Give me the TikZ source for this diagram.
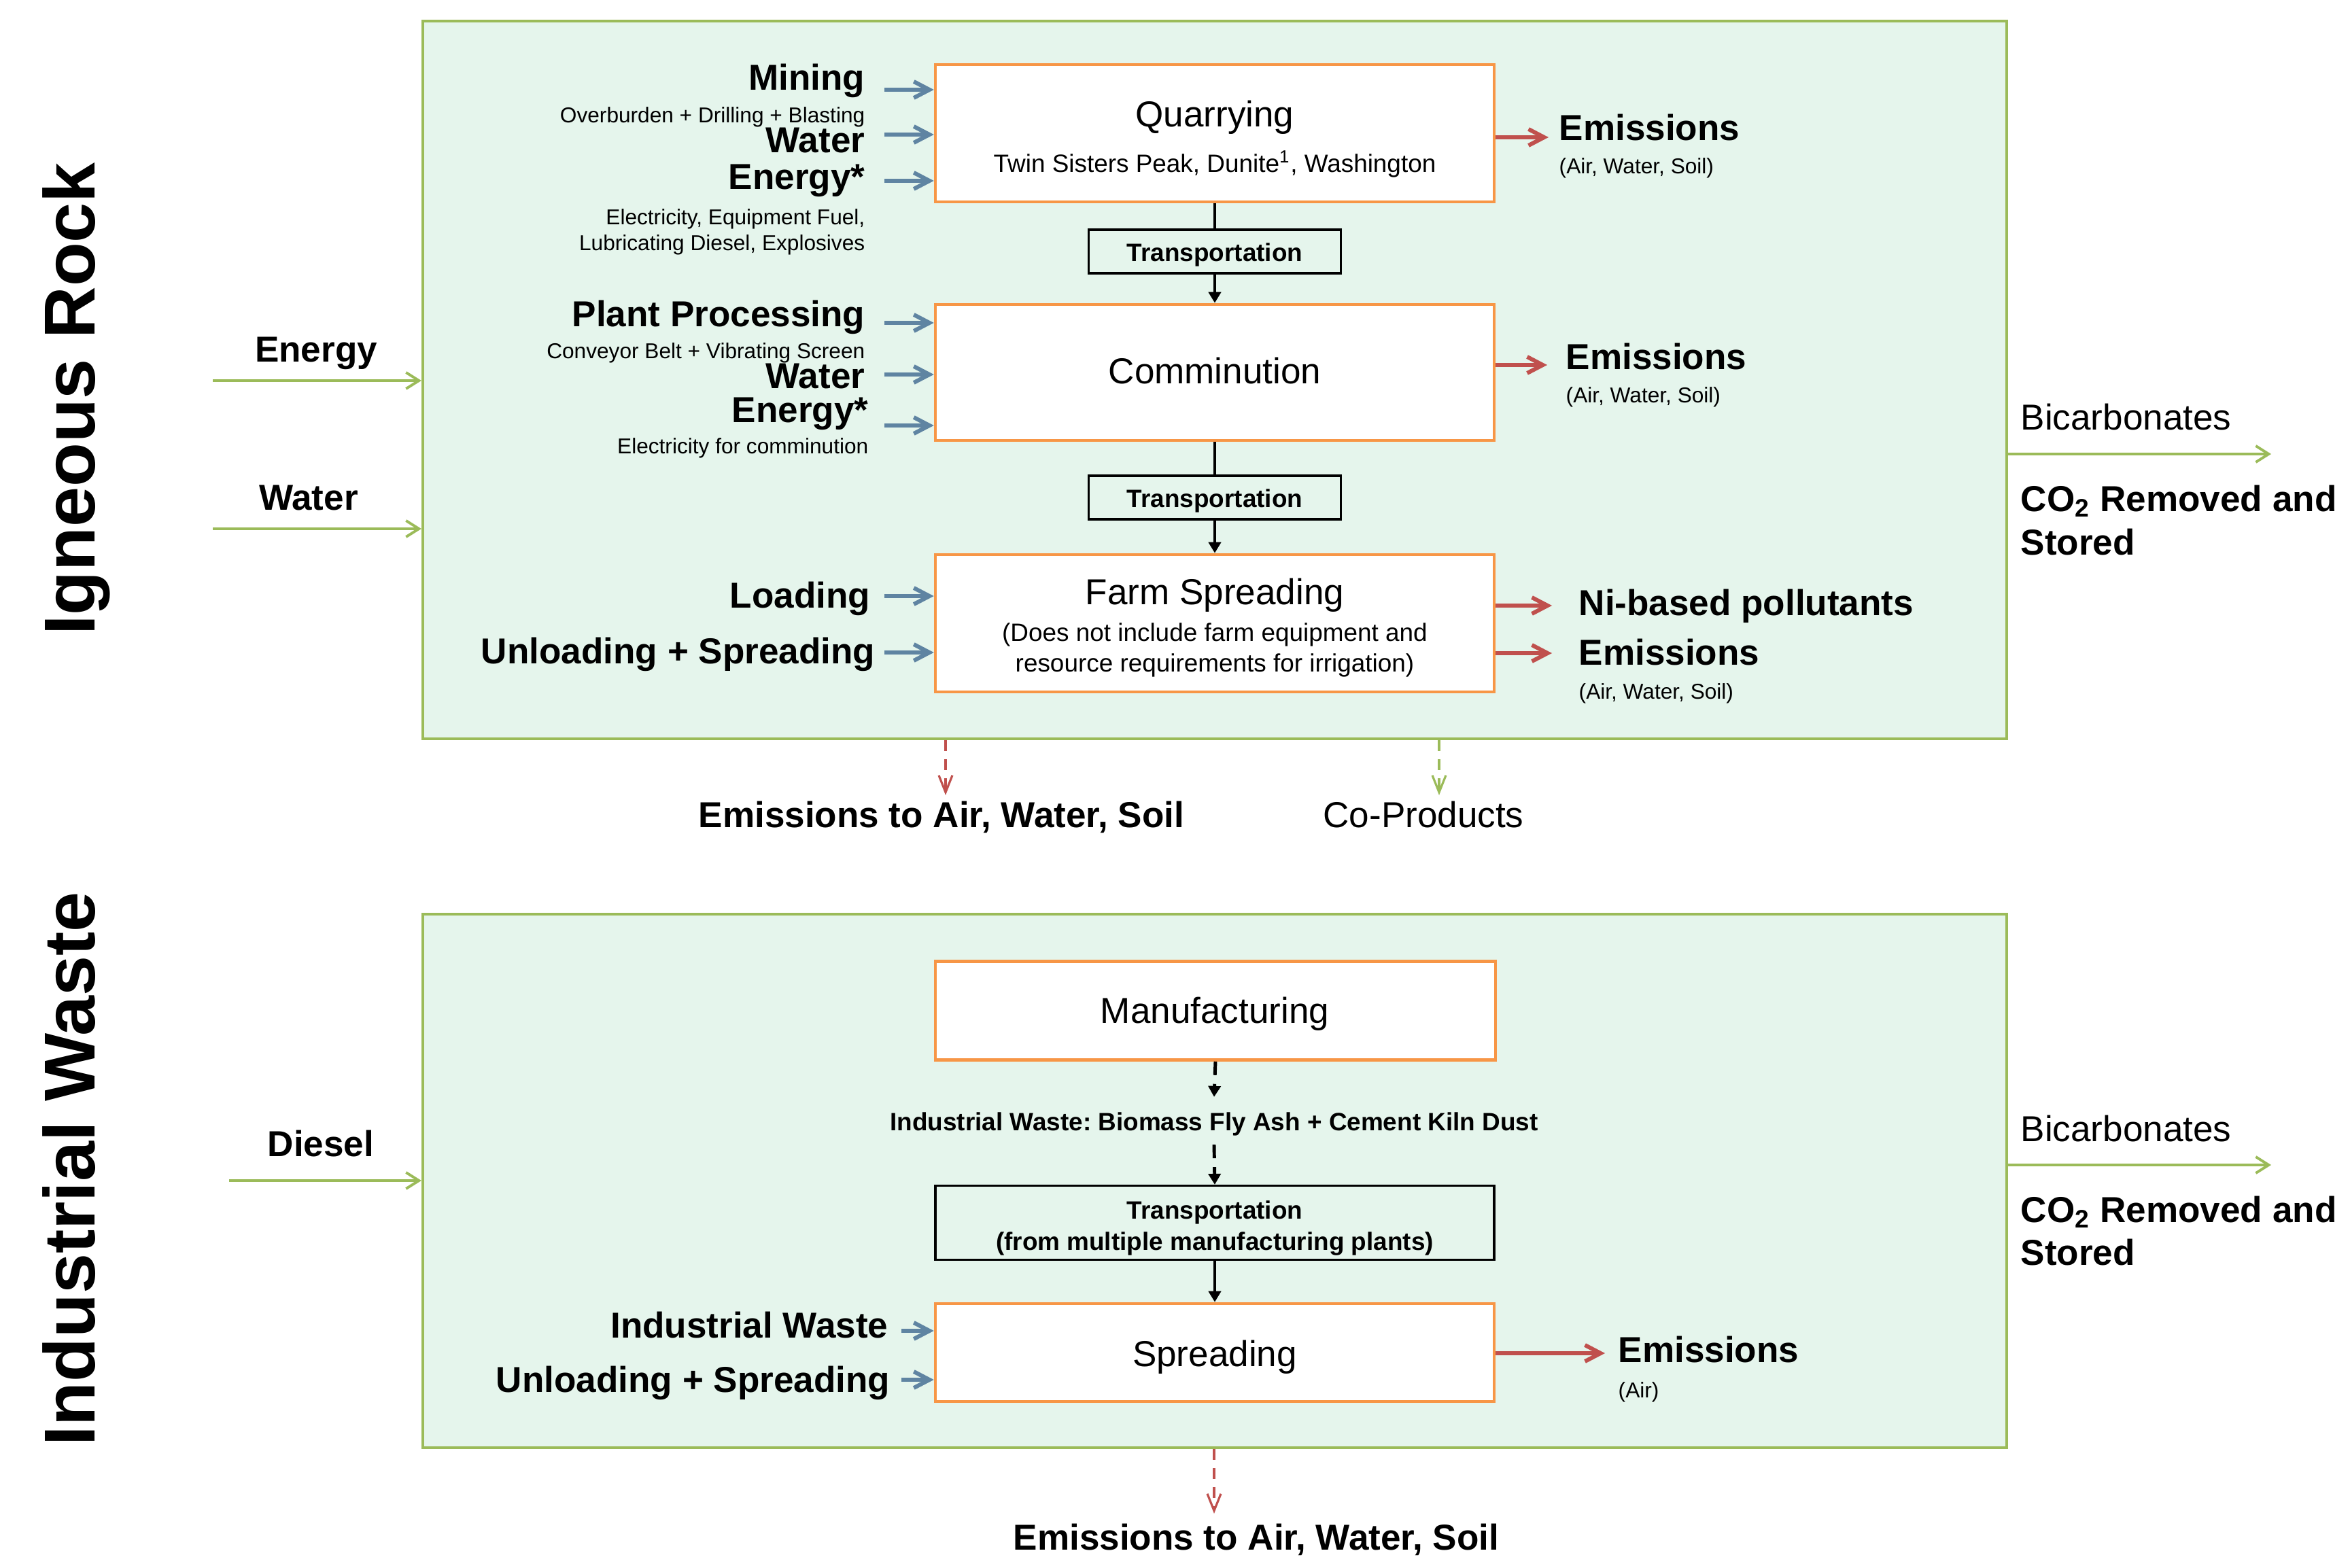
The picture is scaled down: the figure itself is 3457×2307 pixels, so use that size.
\documentclass[tikz,border=0pt]{standalone}
\usepackage{fontspec}
\setmainfont{Liberation Sans}
\usetikzlibrary{arrows.meta}
\definecolor{pgreen}{HTML}{9BBB59}
\definecolor{pfill}{HTML}{E5F5EC}
\definecolor{porange}{HTML}{F79646}
\definecolor{pblue}{HTML}{5F84A2}
\definecolor{pred}{HTML}{C0504D}
\newcommand\fbig{\fontsize{15.1}{18}\selectfont}
\newcommand\fmed{\fontsize{10.5}{12.6}\selectfont}
\newcommand\fsm{\fontsize{9}{10.8}\selectfont}
\newcommand\fhuge{\fontsize{30.2}{36}\selectfont}
\frenchspacing
\begin{document}
\begin{tikzpicture}[x=0.1mm,y=-0.1mm,
  panel/.style={draw=pgreen, fill=pfill, line width=1.2pt, inner sep=0pt},
  procbox/.style={draw=porange, fill=white, line width=1.3pt, inner sep=0pt},
  transbox/.style={draw=black, fill=pfill, line width=0.9pt, inner sep=0pt, text height=1.02em, text depth=0.2em},
  txt/.style={inner sep=0pt, text height=1.02em, text depth=0.2em},
  bigb/.style={txt, font=\fbig\bfseries},
  bigr/.style={txt, font=\fbig},
  medb/.style={txt, font=\fmed\bfseries},
  medr/.style={txt, font=\fmed},
  smr/.style={txt, font=\fsm},
  hugeb/.style={txt, font=\fhuge\bfseries, rotate=90},
  inarrow/.style={draw=pblue, line width=1.7pt, -{Straight Barb[length=2.3mm,width=2.4mm]}},
  outarrow/.style={draw=pred, line width=1.7pt, -{Straight Barb[length=2.3mm,width=2.4mm]}},
  greenarrow/.style={draw=pgreen, line width=1.1pt, -{Straight Barb[length=1.9mm,width=2.4mm]}},
  reddash/.style={draw=pred, line width=0.9pt, dash pattern=on 1.6mm off 1.2mm, -{Straight Barb[length=2.5mm,width=2mm]}},
  greendash/.style={draw=pgreen, line width=0.9pt, dash pattern=on 1.6mm off 1.2mm, -{Straight Barb[length=2.5mm,width=2mm]}},
  flowline/.style={draw=black, line width=1.4pt},
  flowarrow/.style={flowline, -{Triangle[length=1.6mm,width=1.8mm]}},
  flowdash/.style={flowarrow, dash pattern=on 2mm off 1.3mm},
]
\fill[white] (0,0) rectangle (3457,2307);
\useasboundingbox (0,0) rectangle (3457,2307);

% panels
\node[panel, minimum width=233mm, minimum height=105.6mm] (top) at (1787,559) {};
\node[panel, minimum width=233mm, minimum height=78.5mm] (bot) at (1787,1737.5) {};

% side titles
\node[hugeb] (igneous) at (125,587) {Igneous Rock};
\node[hugeb] (indwaste) at (125,1720) {Industrial Waste};

% process boxes
\node[procbox, minimum width=82.2mm, minimum height=20.2mm] (q) at (1787,196) {};
\node[procbox, minimum width=82.2mm, minimum height=20mm] (c) at (1787,548) {};
\node[procbox, minimum width=82.2mm, minimum height=20.2mm] (f) at (1787,917) {};
\node[transbox, minimum width=37.1mm, minimum height=6.4mm, font=\fmed\bfseries] (t1) at (1787,370) {Transportation};
\node[transbox, minimum width=37.1mm, minimum height=6.4mm, font=\fmed\bfseries] (t2) at (1787,732) {Transportation};
\node[procbox, minimum width=82.4mm, minimum height=14.5mm] (m) at (1788,1487) {};
\node[transbox, minimum width=82.2mm, minimum height=10.9mm] (t3) at (1787,1799) {};
\node[procbox, minimum width=82.2mm, minimum height=14.4mm] (s) at (1787,1990) {};

% box texts
\node[bigr] (qt) at (1787,172) {Quarrying};
\node[medr] (qs) at (1787,239) {Twin Sisters Peak, Dunite\textsuperscript{1}, Washington};
\node[bigr] (ct) at (1787,550) {Comminution};
\node[bigr] (ft) at (1787,875) {Farm Spreading};
\node[medr] (fs1) at (1787,929) {(Does not include farm equipment and};
\node[medr] (fs2) at (1787,974) {resource requirements for irrigation)};
\node[bigr] (mt) at (1787,1491) {Manufacturing};
\node[medb] (t3a) at (1787,1779) {Transportation};
\node[medb] (t3b) at (1787,1825) {(from multiple manufacturing plants)};
\node[bigr] (st) at (1787,1996) {Spreading};
\node[medb, inner ysep=1.3mm] (iwl) at (1786,1649) {Industrial Waste: Biomass Fly Ash + Cement Kiln Dust};

% vertical flow
\draw[flowline] (q.south) -- (t1.north);
\draw[flowarrow] (t1.south) -- (c.north);
\draw[flowline] (c.south) -- (t2.north);
\draw[flowarrow] (t2.south) -- (f.north);
\draw[flowdash] (m.south) -- (iwl.north);
\draw[flowdash] (iwl.south) -- (t3.north);
\draw[flowarrow] (t3.south) -- (s.north);

% quarrying inputs
\node[bigb, anchor=east] (mining) at (1273,118) {Mining};
\node[smr, anchor=east] (mining2) at (1273,166) {Overburden + Drilling + Blasting};
\node[bigb, anchor=east] (qwater) at (1273,210) {Water};
\node[bigb, anchor=east] (qenergy) at (1273,264) {Energy*};
\node[smr, anchor=east] (qen2) at (1273,316) {Electricity, Equipment Fuel,};
\node[smr, anchor=east] (qen3) at (1273,354) {Lubricating Diesel, Explosives};
\coordinate (qa1) at (1301,132);
\coordinate (qa2) at (1301,198);
\coordinate (qa3) at (1301,266);
\draw[inarrow] (qa1) -- (qa1 -| q.west);
\draw[inarrow] (qa2) -- (qa2 -| q.west);
\draw[inarrow] (qa3) -- (qa3 -| q.west);

% comminution inputs
\node[bigb, anchor=east] (plant) at (1273,466) {Plant Processing};
\node[smr, anchor=east] (plant2) at (1273,513) {Conveyor Belt + Vibrating Screen};
\node[bigb, anchor=east] (cwater) at (1273,557) {Water};
\node[bigb, anchor=east] (cenergy) at (1278,607) {Energy*};
\node[smr, anchor=east] (cen2) at (1278,653) {Electricity for comminution};
\coordinate (ca1) at (1301,475);
\coordinate (ca2) at (1301,551);
\coordinate (ca3) at (1301,626);
\draw[inarrow] (ca1) -- (ca1 -| c.west);
\draw[inarrow] (ca2) -- (ca2 -| c.west);
\draw[inarrow] (ca3) -- (ca3 -| c.west);

% farm inputs
\node[bigb, anchor=east] (loading) at (1281,880) {Loading};
\node[bigb, anchor=east] (unload) at (1288,962) {Unloading + Spreading};
\coordinate (fa1) at (1301,877);
\coordinate (fa2) at (1301,960);
\draw[inarrow] (fa1) -- (fa1 -| f.west);
\draw[inarrow] (fa2) -- (fa2 -| f.west);

% spreading inputs
\node[bigb, anchor=east] (iwin) at (1307,1954) {Industrial Waste};
\node[bigb, anchor=east] (unload2) at (1310,2034) {Unloading + Spreading};
\coordinate (sa1) at (1326,1958);
\coordinate (sa2) at (1326,2030);
\draw[inarrow] (sa1) -- (sa1 -| s.west);
\draw[inarrow] (sa2) -- (sa2 -| s.west);

% outputs right of boxes
\coordinate (qo) at (2278,202);
\draw[outarrow] (qo -| q.east) -- (qo);
\node[bigb, anchor=west] (qem) at (2293,192) {Emissions};
\node[smr, anchor=west] (qem2) at (2293,241) {(Air, Water, Soil)};

\coordinate (co) at (2276,537);
\draw[outarrow] (co -| c.east) -- (co);
\node[bigb, anchor=west] (cem) at (2303,529) {Emissions};
\node[smr, anchor=west] (cem2) at (2303,578) {(Air, Water, Soil)};

\coordinate (fo1) at (2283,891);
\coordinate (fo2) at (2283,961);
\draw[outarrow] (fo1 -| f.east) -- (fo1);
\draw[outarrow] (fo2 -| f.east) -- (fo2);
\node[bigb, anchor=west] (ni) at (2322,891) {Ni-based pollutants};
\node[bigb, anchor=west] (fem) at (2322,964) {Emissions};
\node[smr, anchor=west] (fem2) at (2322,1014) {(Air, Water, Soil)};

\coordinate (so) at (2361,1991);
\draw[outarrow] (so -| s.east) -- (so);
\node[bigb, anchor=west] (sem) at (2380,1990) {Emissions};
\node[smr, anchor=west] (sem2) at (2380,2042) {(Air)};

% panel inputs
\node[bigb] (penergy) at (465,518) {Energy};
\node[bigb] (pwater) at (454,736) {Water};
\node[bigb] (pdiesel) at (472,1687) {Diesel};
\coordinate (pe) at (313,560);
\coordinate (pw) at (313,778);
\coordinate (pd) at (337,1737);
\draw[greenarrow] (pe) -- (pe -| top.west);
\draw[greenarrow] (pw) -- (pw -| top.west);
\draw[greenarrow] (pd) -- (pd -| bot.west);

% panel outputs right
\coordinate (bo1) at (3341,668);
\coordinate (bo2) at (3341,1714);
\draw[greenarrow] (bo1 -| top.east) -- (bo1);
\draw[greenarrow] (bo2 -| bot.east) -- (bo2);
\node[bigr, anchor=west] (bic1) at (2972,618) {Bicarbonates};
\node[bigb, anchor=west] (co21) at (2972,738) {CO\textsubscript{2} Removed and};
\node[bigb, anchor=west] (st1) at (2972,802) {Stored};
\node[bigr, anchor=west] (bic2) at (2972,1665) {Bicarbonates};
\node[bigb, anchor=west] (co22) at (2972,1784) {CO\textsubscript{2} Removed and};
\node[bigb, anchor=west] (st2) at (2972,1847) {Stored};

% panel outputs bottom
\coordinate (eo1) at (1391,1170);
\coordinate (cp1) at (2117,1170);
\coordinate (eo2) at (1786,2227);
\draw[reddash] (eo1 |- top.south) -- (eo1);
\draw[greendash] (cp1 |- top.south) -- (cp1);
\draw[reddash] (eo2 |- bot.south) -- (eo2);
\node[bigb] (emw1) at (1385,1203) {Emissions to Air, Water, Soil};
\node[bigr] (coprod) at (2094,1203) {Co-Products};
\node[bigb] (emw2) at (1848,2266) {Emissions to Air, Water, Soil};
\end{tikzpicture}
\end{document}
